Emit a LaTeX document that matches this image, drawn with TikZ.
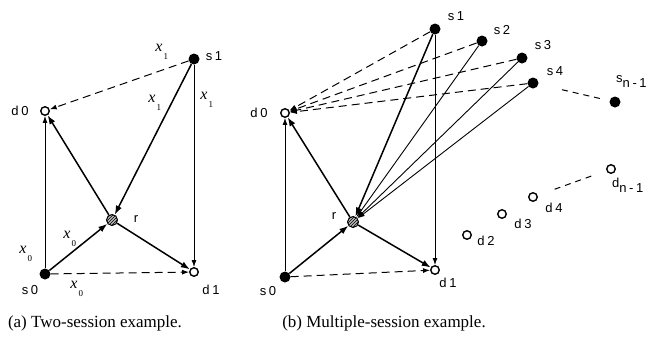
\documentclass[tikz,border=0pt]{standalone}
\usepackage{fontspec}
\setmainfont{Liberation Serif}
\newfontfamily\labfont{Liberation Sans}[LetterSpace=20]
\usetikzlibrary{arrows.meta,patterns}
\begin{document}
\begin{tikzpicture}[x=1pt,y=-1pt,
  src/.style={circle,fill=black,inner sep=0pt,minimum size=11pt},
  dst/.style={circle,draw=black,line width=1.4pt,fill=white,inner sep=0pt,minimum size=8.5pt},
  rel/.style={circle,draw=black,line width=1pt,fill=gray!55,inner sep=0pt,minimum size=11pt,postaction={pattern=north east lines}},
  lab/.style={font=\labfont\fontsize{13}{15}\selectfont,inner sep=0pt},
  xl/.style={font=\fontsize{16}{18}\selectfont\itshape,inner sep=0pt},
  thk/.style={line width=1.5pt,-{Latex[length=9pt,width=6.5pt]}},
  thn/.style={line width=0.9pt,-{Latex[length=7pt,width=5pt]}},
  dsh/.style={line width=1pt,dash pattern=on 8pt off 5pt,-{Latex[length=7pt,width=5pt]}},
  dshp/.style={line width=1pt,dash pattern=on 6pt off 5pt},
  captxt/.style={font=\fontsize{17}{20}\selectfont,inner sep=0pt}
]
\newcommand{\xsub}[1]{x\rlap{\raisebox{-8pt}[0pt][0pt]{\kern1pt\upshape\fontsize{9}{9}\selectfont #1}}}
\useasboundingbox (0,0) rectangle (657,343);

% ---------- (a) ----------
\node[src] (S1a) at (194,59) {};
\node[dst] (D0a) at (45,111) {};
\node[rel] (Ra)  at (112,220) {};
\node[src] (S0a) at (45,274) {};
\node[dst] (D1a) at (194,272) {};

\node[lab] (lS1a) at (214,56) {s1};
\node[lab] (lD0a) at (20,111) {d0};
\node[lab] (lRa)  at (136,219) {r};
\node[lab] (lS0a) at (30,290) {s0};
\node[lab] (lD1a) at (211,290) {d1};

\node[xl] (x1a) at (159,48) {\xsub{1}};
\node[xl] (x1b) at (152,99) {\xsub{1}};
\node[xl] (x1c) at (204,96) {\xsub{1}};
\node[xl] (x0a) at (23,250) {\xsub{0}};
\node[xl] (x0b) at (67,235) {\xsub{0}};
\node[xl] (x0c) at (74,285) {\xsub{0}};

\draw[dsh] (S1a) -- (D0a);
\draw[thk] (S1a) -- (Ra);
\draw[thn] (S1a) -- (D1a);
\draw[thn] (S0a) -- (D0a);
\draw[thk] (S0a) -- (Ra);
\draw[thk] (Ra) -- (D0a);
\draw[thk] (Ra) -- (D1a);
\draw[dsh] (S0a) -- (D1a);

% ---------- (b) ----------
\node[src] (S1b) at (435,29) {};
\node[src] (S2b) at (482,41) {};
\node[src] (S3b) at (522,58) {};
\node[src] (S4b) at (533,83) {};
\node[src] (Snb) at (615,102) {};
\node[dst] (D0b) at (285,113) {};
\node[rel] (Rb)  at (353,222) {};
\node[src] (S0b) at (285,277) {};
\node[dst] (D1b) at (435,270) {};
\node[dst] (D2b) at (467,235) {};
\node[dst] (D3b) at (502,214) {};
\node[dst] (D4b) at (533,197) {};
\node[dst] (Dnb) at (611,169) {};

\node[lab] (lS1b) at (456,16) {s1};
\node[lab] (lS2b) at (502,30) {s2};
\node[lab] (lS3b) at (543,45) {s3};
\node[lab] (lS4b) at (555,71) {s4};
\node[lab,anchor=west] (lSnb) at (616,82) {s\raisebox{-5pt}{n-1}};
\node[lab] (lD0b) at (259,113) {d0};
\node[lab] (lRb)  at (334,216) {r};
\node[lab] (lS0b) at (268,291) {s0};
\node[lab] (lD1b) at (448,283) {d1};
\node[lab] (lD2b) at (486,241) {d2};
\node[lab] (lD3b) at (523,224) {d3};
\node[lab] (lD4b) at (554,208) {d4};
\node[lab,anchor=west] (lDnb) at (612,185) {d\raisebox{-5pt}{n-1}};

\draw[dsh] (S1b) -- (D0b);
\draw[dsh] (S2b) -- (D0b);
\draw[dsh] (S3b) -- (D0b);
\draw[dsh] (S4b) -- (D0b);
\draw[thk] (S1b) -- (Rb);
\draw[thn] (S2b) -- (Rb);
\draw[thn] (S3b) -- (Rb);
\draw[thn] (S4b) -- (Rb);
\draw[thn] (S1b) -- (D1b);
\draw[thn] (S0b) -- (D0b);
\draw[thk] (S0b) -- (Rb);
\draw[thk] (Rb) -- (D0b);
\draw[thk] (Rb) -- (D1b);
\draw[dsh] (S0b) -- (D1b);
\draw[dshp,shorten <=24pt,shorten >=7pt] (S4b) -- (Snb);
\draw[dshp,shorten <=18pt,shorten >=14pt] (D4b) -- (Dnb);

% ---------- captions ----------
\node[captxt] (capa) at (95,323) {(a) Two-session example.};
\node[captxt] (capb) at (384,323) {(b) Multiple-session example.};
\end{tikzpicture}
\end{document}
